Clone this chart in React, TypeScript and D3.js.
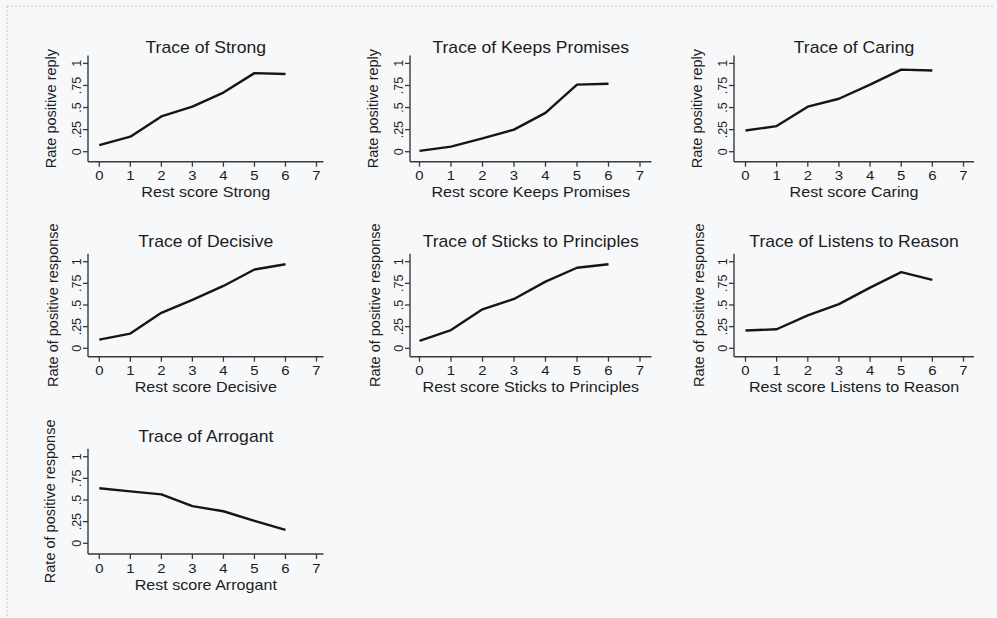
import React from "react";
import * as d3 from "d3";

// ---- data ----
const traits = ["Strong", "Keeps Promises", "Caring", "Decisive", "Sticks to Principles", "Listens to Reason", "Arrogant"];
const yTitles = [
  "Rate positive reply", "Rate positive reply", "Rate positive reply",
  "Rate of positive response", "Rate of positive response", "Rate of positive response",
  "Rate of positive response",
];
const restScores = [0, 1, 2, 3, 4, 5, 6];
const xTicks = [0, 1, 2, 3, 4, 5, 6, 7];
const yTicks = [0, 0.25, 0.5, 0.75, 1];
const yTickLabels = ["0", ".25", ".5", ".75", "1"];

const strong = [0.075, 0.17, 0.40, 0.51, 0.67, 0.89, 0.88];
const keepsPromises = [0.01, 0.057, 0.15, 0.25, 0.44, 0.76, 0.77];
const caring = [0.24, 0.29, 0.51, 0.60, 0.76, 0.93, 0.92];
const decisive = [0.10, 0.17, 0.41, 0.56, 0.72, 0.91, 0.97];
const sticks = [0.085, 0.21, 0.45, 0.57, 0.77, 0.93, 0.97];
const listens = [0.205, 0.22, 0.38, 0.51, 0.70, 0.88, 0.79];
const arrogant = [0.635, 0.60, 0.565, 0.43, 0.37, 0.26, 0.155];
const series = [strong, keepsPromises, caring, decisive, sticks, listens, arrogant];

// ---- layout ----
const colAxisX = [88, 410, 734];
const colX0 = [99.3, 419.5, 745.5];
const colX7 = [316.5, 640, 963.5];
const colXEnd = [323.5, 651.5, 974];
const rowY0 = [151.7, 348.3, 543.3];
const rowY1 = [63.4, 261.7, 456.7];
const rowAxisY = [161.7, 356.7, 554];
const rowTitle = [52.7, 247.3, 441.7];
const rowYTitleOff = [-32, -30.5, -33];

const FONT = "'Liberation Sans', Arial, Helvetica, sans-serif";
const AX = "#3a3a3a";

function Panel({ i }: { i: number }) {
  const c = i % 3;
  const r = Math.floor(i / 3);
  const x = d3.scaleLinear().domain([0, 7]).range([colX0[c], colX7[c]]);
  const y = d3.scaleLinear().domain([0, 1]).range([rowY0[r], rowY1[r]]);
  const ax = colAxisX[c];
  const ay = rowAxisY[r];
  const top = rowY1[r] - 8;
  const right = colXEnd[c];
  const line = d3.line<number>().x((_, k) => x(restScores[k])).y((v) => y(v));
  const cx = (ax + right) / 2;
  const cy = (top + ay) / 2;
  return (
    <g>
      <text
        transform={`translate(${cx},${rowTitle[r]}) scale(1.1,1)`}
        textAnchor="middle"
        fontFamily={FONT}
        fontSize={16}
        fill="#1c1c1c"
      >
        {`Trace of ${traits[i]}`}
      </text>
      {/* axes */}
      <line x1={ax} x2={ax} y1={top} y2={ay} stroke={AX} strokeWidth={1.4} />
      <line x1={ax} x2={right} y1={ay} y2={ay} stroke={AX} strokeWidth={1.4} />
      {yTicks.map((t, k) => (
        <g key={"y" + k}>
          <line x1={ax - 5} x2={ax} y1={y(t)} y2={y(t)} stroke={AX} strokeWidth={1.3} />
          <text
            transform={`translate(${ax - 7},${y(t)}) rotate(-90)`}
            textAnchor="middle"
            fontFamily={FONT}
            fontSize={12.5}
            fill="#1c1c1c"
          >
            {yTickLabels[k]}
          </text>
        </g>
      ))}
      {xTicks.map((t) => (
        <g key={"x" + t}>
          <line x1={x(t)} x2={x(t)} y1={ay} y2={ay + 5} stroke={AX} strokeWidth={1.3} />
          <text
            transform={`translate(${x(t)},${ay + 18.5}) scale(1.15,1)`}
            textAnchor="middle"
            fontFamily={FONT}
            fontSize={13}
            fill="#1c1c1c"
          >
            {t}
          </text>
        </g>
      ))}
      <text
        transform={`translate(${cx},${ay + 35.5}) scale(1.15,1)`}
        textAnchor="middle"
        fontFamily={FONT}
        fontSize={14}
        fill="#1c1c1c"
      >
        {`Rest score ${traits[i]}`}
      </text>
      <text
        transform={`translate(${ax + rowYTitleOff[r]},${cy}) rotate(-90)`}
        textAnchor="middle"
        fontFamily={FONT}
        fontSize={14.5}
        fill="#1c1c1c"
      >
        {yTitles[i]}
      </text>
      <path d={line(series[i]) || ""} fill="none" stroke="#151515" strokeWidth={2.4} strokeLinejoin="round" />
    </g>
  );
}

export default function App() {
  const W = 997;
  const H = 618;
  return (
    <svg
      width={W}
      height={H}
      viewBox={`0 0 ${W} ${H}`}
      style={{ position: "absolute", left: 0, top: 0, display: "block" }}
    >
      <rect x={0} y={0} width={W} height={H} fill="#f7f8fa" />
      <line x1={7} x2={994} y1={6} y2={6} stroke="#c4c6ca" strokeWidth={1} strokeDasharray="2,2" />
      <line x1={7} x2={7} y1={6} y2={H} stroke="#c4c6ca" strokeWidth={1} strokeDasharray="2,2" />
      {traits.map((_, i) => (
        <Panel key={i} i={i} />
      ))}
    </svg>
  );
}
